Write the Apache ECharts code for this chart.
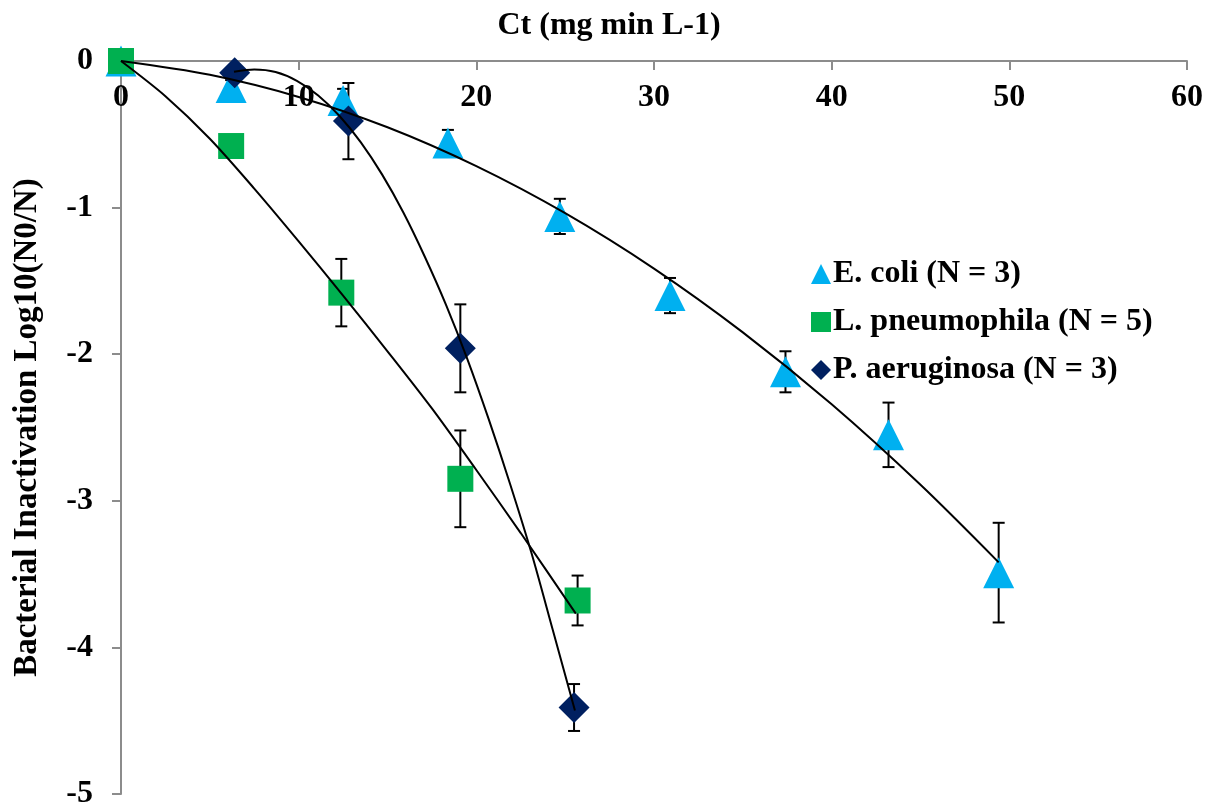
<!DOCTYPE html>
<html>
<head>
<meta charset="utf-8">
<script src="https://cdn.jsdelivr.net/npm/echarts@6/dist/echarts.min.js"></script>
<style>
  html, body { margin: 0; padding: 0; background: #ffffff; }
  #chart { width: 1210px; height: 807px; }
</style>
</head>
<body>
<div id="chart"></div>
<script>
// Series labels
const seriesNames = ['E. coli (N = 3)', 'L. pneumophila (N = 5)', 'P. aeruginosa (N = 3)'];

// E. coli: Ct, mean log10 inactivation, standard deviation
const ecoliCt  = [0, 6.2, 12.5, 18.4, 24.7, 30.9, 37.4, 43.2, 49.4];
const ecoliLog = [0, -0.18, -0.27, -0.56, -1.06, -1.60, -2.12, -2.55, -3.49];
const ecoliSd  = [0, 0.05, 0.08, 0.09, 0.12, 0.12, 0.14, 0.22, 0.34];

// L. pneumophila
const legCt  = [0, 6.2, 12.4, 19.1, 25.7];
const legLog = [0, -0.58, -1.58, -2.85, -3.68];
const legSd  = [0, 0.05, 0.23, 0.33, 0.17];

// P. aeruginosa
const psaCt  = [6.4, 12.8, 19.1, 25.5];
const psaLog = [-0.08, -0.41, -1.96, -4.41];
const psaSd  = [0.05, 0.26, 0.30, 0.16];

// Trend curves (Ct, log10 inactivation)
const ecoliFitCt  = [0, 5, 10, 15, 20, 25, 30, 35, 40, 45, 49.4];
const ecoliFitLog = [0, -0.094, -0.245, -0.452, -0.717, -1.038, -1.416, -1.851, -2.342, -2.891, -3.42];

const legFitCt  = [0, 2.5, 5, 7.5, 10, 12.5, 15, 17.5, 20, 22.5, 25.6];
const legFitLog = [0, -0.24, -0.53, -0.87, -1.23, -1.60, -1.98, -2.37, -2.79, -3.22, -3.77];

const psaFitCt  = [6.36, 7.5, 8.7, 9.9, 11.1, 12.3, 13.5, 14.7, 15.9, 17.1, 18.3, 19.5, 20.7, 21.9, 23.1, 24.3, 25.55];
const psaFitLog = [-0.073, -0.058, -0.075, -0.135, -0.235, -0.375, -0.555, -0.775, -1.035, -1.335, -1.665, -2.035, -2.445, -2.885, -3.355, -3.88, -4.43];

// Axis ranges: [min, max, interval]
const xRange = [0, 60, 10];
const yRange = [-5, 0, 1];

const colors = ['#00B0F0', '#00B050', '#002060'];
const symbols = ['triangle', 'rect', 'diamond'];
const symbolSizes = [[31, 31], [26, 26], [31, 31]];
const FONT = '"Liberation Serif", "Times New Roman", serif';

const zip = (xs, ys) => xs.map((x, i) => [x, ys[i]]);
const errRows = (xs, ys, sd) => xs.map((x, i) => [x, ys[i] - sd[i], ys[i] + sd[i]]).filter((r, i) => sd[i] > 0);

function renderErrorBar(params, api) {
  const x = api.value(0);
  const lo = api.coord([x, api.value(1)]);
  const hi = api.coord([x, api.value(2)]);
  const cap = 6;
  const st = { stroke: '#000000', lineWidth: 2 };
  return {
    type: 'group',
    children: [
      { type: 'line', shape: { x1: lo[0], y1: lo[1], x2: hi[0], y2: hi[1] }, style: st },
      { type: 'line', shape: { x1: lo[0] - cap, y1: lo[1], x2: lo[0] + cap, y2: lo[1] }, style: st },
      { type: 'line', shape: { x1: hi[0] - cap, y1: hi[1], x2: hi[0] + cap, y2: hi[1] }, style: st }
    ]
  };
}

const pointSets = [[ecoliCt, ecoliLog, ecoliSd], [legCt, legLog, legSd], [psaCt, psaLog, psaSd]];
const fitSets = [[ecoliFitCt, ecoliFitLog], [legFitCt, legFitLog], [psaFitCt, psaFitLog]];

const series = [];
pointSets.forEach((s, i) => {
  series.push({
    type: 'custom',
    name: seriesNames[i] + ' error',
    renderItem: renderErrorBar,
    encode: { x: 0, y: [1, 2] },
    data: errRows(s[0], s[1], s[2]),
    z: 1,
    silent: true
  });
});
pointSets.forEach((s, i) => {
  series.push({
    type: 'scatter',
    name: seriesNames[i],
    data: zip(s[0], s[1]),
    symbol: symbols[i],
    symbolSize: symbolSizes[i],
    itemStyle: { color: colors[i], opacity: 1 },
    z: 2
  });
});
fitSets.forEach((f, i) => {
  series.push({
    type: 'line',
    name: seriesNames[i] + ' trend',
    data: zip(f[0], f[1]),
    smooth: 0.3,
    showSymbol: false,
    lineStyle: { color: '#000000', width: 2 },
    z: 3,
    silent: true
  });
});

const chart = echarts.init(document.getElementById('chart'), null, { renderer: 'canvas' });
chart.setOption({
  animation: false,
  backgroundColor: '#ffffff',
  textStyle: { fontFamily: FONT },
  grid: { left: 121, top: 61, right: 23, bottom: 13, containLabel: false, outerBoundsMode: 'none' },
  legend: {
    orient: 'vertical',
    left: 806,
    top: 253,
    itemWidth: 20,
    itemHeight: 20,
    itemGap: 16,
    textStyle: { fontFamily: FONT, fontSize: 32, lineHeight: 32, fontWeight: 'bold', color: '#000000', padding: [0, 0, 0, -3] },
    data: seriesNames.map((n, i) => ({ name: n, icon: symbols[i], itemStyle: { color: colors[i] } }))
  },
  xAxis: {
    type: 'value',
    position: 'top',
    min: xRange[0], max: xRange[1], interval: xRange[2],
    name: 'Ct (mg min L-1)',
    nameLocation: 'middle',
    nameGap: 19,
    nameTextStyle: { fontFamily: FONT, fontSize: 32, fontWeight: 'bold', color: '#000000', padding: [0, 90, 0, 0] },
    axisLine: { show: true, onZero: false, lineStyle: { color: '#8c8c8c', width: 2 } },
    axisTick: { show: true, inside: true, length: 9, lineStyle: { color: '#8c8c8c', width: 2 } },
    axisLabel: { inside: true, margin: 21, fontFamily: FONT, fontSize: 32, fontWeight: 'bold', color: '#000000' },
    splitLine: { show: false }
  },
  yAxis: {
    type: 'value',
    min: yRange[0], max: yRange[1], interval: yRange[2],
    name: 'Bacterial Inactivation Log10(N0/N)',
    nameLocation: 'middle',
    nameGap: 77,
    nameRotate: 90,
    nameTextStyle: { fontFamily: FONT, fontSize: 33, fontWeight: 'bold', color: '#000000' },
    axisLine: { show: true, onZero: false, lineStyle: { color: '#8c8c8c', width: 2 } },
    axisTick: { show: true, length: 9, lineStyle: { color: '#8c8c8c', width: 2 } },
    axisLabel: { margin: 28, fontFamily: FONT, fontSize: 32, fontWeight: 'bold', color: '#000000' },
    splitLine: { show: false }
  },
  series: series
});
</script>
</body>
</html>
